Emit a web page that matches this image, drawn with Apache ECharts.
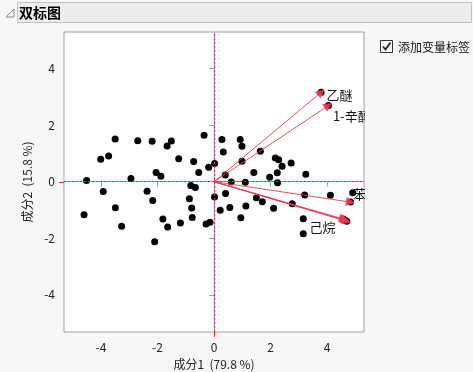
<!DOCTYPE html>
<html><head><meta charset="utf-8">
<script src="https://cdn.jsdelivr.net/npm/echarts@6/dist/echarts.min.js"></script>
<style>html,body{margin:0;padding:0;background:#f7f7f7;}#c{width:473px;height:372px;}</style>
</head><body><div id="c"></div>
<script>
const xTicks = [-4, -2, 0, 2, 4];
const yTicks = [-4, -2, 0, 2, 4];
const obsX = [-3.50,-2.70,-2.19,-1.51,-1.66,-0.35,-4.01,-3.73,-1.25,-0.72,-0.19,0.02,-0.54,-2.05,-1.88,-2.94,-4.51,-3.92,-2.37,-0.82,-0.66,-2.17,-0.87,0.02,-3.49,-0.79,0.22,-4.60,-0.77,-1.81,-1.19,-0.28,-0.14,-3.27,-1.64,-2.10,0.28,0.93,0.99,0.33,1.64,0.99,2.17,2.29,2.41,2.73,1.41,2.24,3.25,1.97,0.40,2.25,1.11,0.61,0.41,0.56,1.13,1.50,1.71,2.11,0.95,2.77,3.21,4.12,3.16,3.16,4.91];
const obsY = [1.51,1.45,1.43,1.44,1.26,1.64,0.79,0.91,0.81,0.71,0.51,0.64,0.33,0.33,0.19,0.11,0.04,-0.35,-0.34,-0.13,-0.20,-0.66,-0.60,-0.54,-0.92,-0.93,-1.01,-1.17,-1.26,-1.32,-1.46,-1.49,-1.43,-1.57,-1.60,-2.12,1.49,1.49,1.25,1.05,1.08,0.72,0.84,0.78,0.55,0.66,0.33,0.32,0.26,0.16,0.24,-0.04,-0.02,-0.01,-0.42,-0.91,-0.86,-0.57,-0.71,-0.94,-1.27,-0.78,-0.47,-0.48,-1.31,-1.84,-0.39];
const varNames = ['乙醚', '1-辛醇', '苯', '己烷', '', ''];
const varX = [3.79, 4.05, 4.83, 4.64, 4.58, 4.70];
const varY = [3.16, 2.69, -0.72, -1.36, -1.32, -1.40];

const labelCfg = {
  '乙醚': {position: 'right', distance: 2, offset: [0, 3]},
  '1-辛醇': {position: 'right', distance: 1, offset: [0, 10]},
  '苯': {position: 'right', distance: 0, offset: [-1, -8]},
  '己烷': {position: 'left', distance: 6, offset: [0, 7]}
};
const FONT = "'Noto Sans CJK SC', 'Noto Sans', sans-serif";
const chart = echarts.init(document.getElementById('c'), null, {renderer: 'canvas'});
const points = obsX.map((x, i) => [x, obsY[i]]);
const tips = varX.map((x, i) => {
  const cfg = labelCfg[varNames[i]];
  return {
    value: [x, varY[i]],
    label: cfg ? Object.assign({show: true, formatter: varNames[i]}, cfg) : {show: false}
  };
});
const arrows = varX.map((x, i) => ({coords: [[0, 0], [x, varY[i]]]}));
const axisCommon = {
  type: 'value', min: -5.31, max: 5.31,
  axisLine: {show: true, lineStyle: {color: '#a0a0a0'}},
  splitLine: {show: false},
  axisTick: {show: true, length: 5, lineStyle: {color: '#a0a0a0'}},
  nameLocation: 'middle',
  nameTextStyle: {color: '#222', fontSize: 12, fontFamily: FONT},
};
chart.setOption({
  backgroundColor: '#f7f7f7',
  animation: false,
  grid: {left: 64, top: 32, width: 300, height: 300, outerBoundsMode: 'none', containLabel: false, show: true, backgroundColor: '#fff', borderColor: '#a0a0a0', borderWidth: 1},
  xAxis: Object.assign({}, axisCommon, {
    name: '成分1  (79.8 %)', nameGap: 26,
    axisTick: Object.assign({}, axisCommon.axisTick, {customValues: xTicks}),
    axisLabel: {customValues: xTicks, margin: 9, color: '#222', fontSize: 12, fontFamily: FONT}
  }),
  yAxis: Object.assign({}, axisCommon, {
    min: -5.31, max: 5.29,
    name: '成分2  (15.8 %)', nameGap: 31,
    axisTick: Object.assign({}, axisCommon.axisTick, {customValues: yTicks}),
    axisLabel: {customValues: yTicks, margin: 9, color: '#222', fontSize: 12, fontFamily: FONT}
  }),
  series: [
    {
      type: 'scatter', data: points, symbolSize: 7, itemStyle: {color: '#000', opacity: 1}, z: 2,
      markLine: {
        silent: true, symbol: 'none', animation: false,
        label: {show: false},
        lineStyle: {color: '#ee2244', type: [2, 2], width: 1, opacity: 1},
        emphasis: {disabled: true},
        data: [{xAxis: 0}, {yAxis: 0}]
      }
    },
    {
      type: 'scatter', data: tips, symbolSize: 7, itemStyle: {color: '#000', opacity: 1}, z: 3,
      label: {color: '#111', fontSize: 13, fontFamily: FONT}
    },
    {
      type: 'lines', coordinateSystem: 'cartesian2d', data: arrows, z: 4,
      symbol: ['none', 'triangle'], symbolSize: 9,
      lineStyle: {color: '#ec3a55', width: 1, opacity: 0.9}
    }
  ]
});
// decorations (title bar, checkbox, red zero-tick extensions), placed after layout
const p0 = chart.convertToPixel({gridIndex: 0}, [0, 0]);
chart.setOption({graphic: [
  {id: 'clip', type: 'rect', shape: {x: 365, y: 60, width: 108, height: 272}, style: {fill: '#f7f7f7'}, z: 100},
  {id: 'bar', type: 'rect', shape: {x: 17.5, y: 2.5, width: 454, height: 20}, style: {fill: '#ececec', stroke: '#c0c0c0', lineWidth: 1}, z: 100},
  {id: 'tri', type: 'polygon', shape: {points: [[14, 9], [14, 17], [6, 17]]}, style: {fill: '#f0f0f0', stroke: '#8a8a8a', lineWidth: 1}, z: 100},
  {id: 'title', type: 'text', x: 19, y: 13, style: {text: '双标图', font: "bold 14px " + FONT, fill: '#000', verticalAlign: 'middle'}, z: 101},
  {id: 'box', type: 'rect', shape: {x: 380.5, y: 40.5, width: 12, height: 12}, style: {fill: '#fff', stroke: '#333', lineWidth: 1}, z: 100},
  {id: 'check', type: 'polyline', shape: {points: [[383, 46.5], [385.5, 49.5], [390.5, 42.5]]}, style: {stroke: '#222', lineWidth: 1.8, fill: null}, z: 101},
  {id: 'cbtext', type: 'text', x: 398, y: 47, style: {text: '添加变量标签', font: "12px " + FONT, fill: '#111', verticalAlign: 'middle'}, z: 101},
  {id: 'tx', type: 'line', shape: {x1: Math.round(p0[0]) + 0.5, y1: 332, x2: Math.round(p0[0]) + 0.5, y2: 337}, style: {stroke: '#ee2244', lineWidth: 1}, z: 102},
  {id: 'ty', type: 'line', shape: {x1: 59, y1: Math.round(p0[1]) + 0.5, x2: 64, y2: Math.round(p0[1]) + 0.5}, style: {stroke: '#ee2244', lineWidth: 1}, z: 102}
]});
</script></body></html>
